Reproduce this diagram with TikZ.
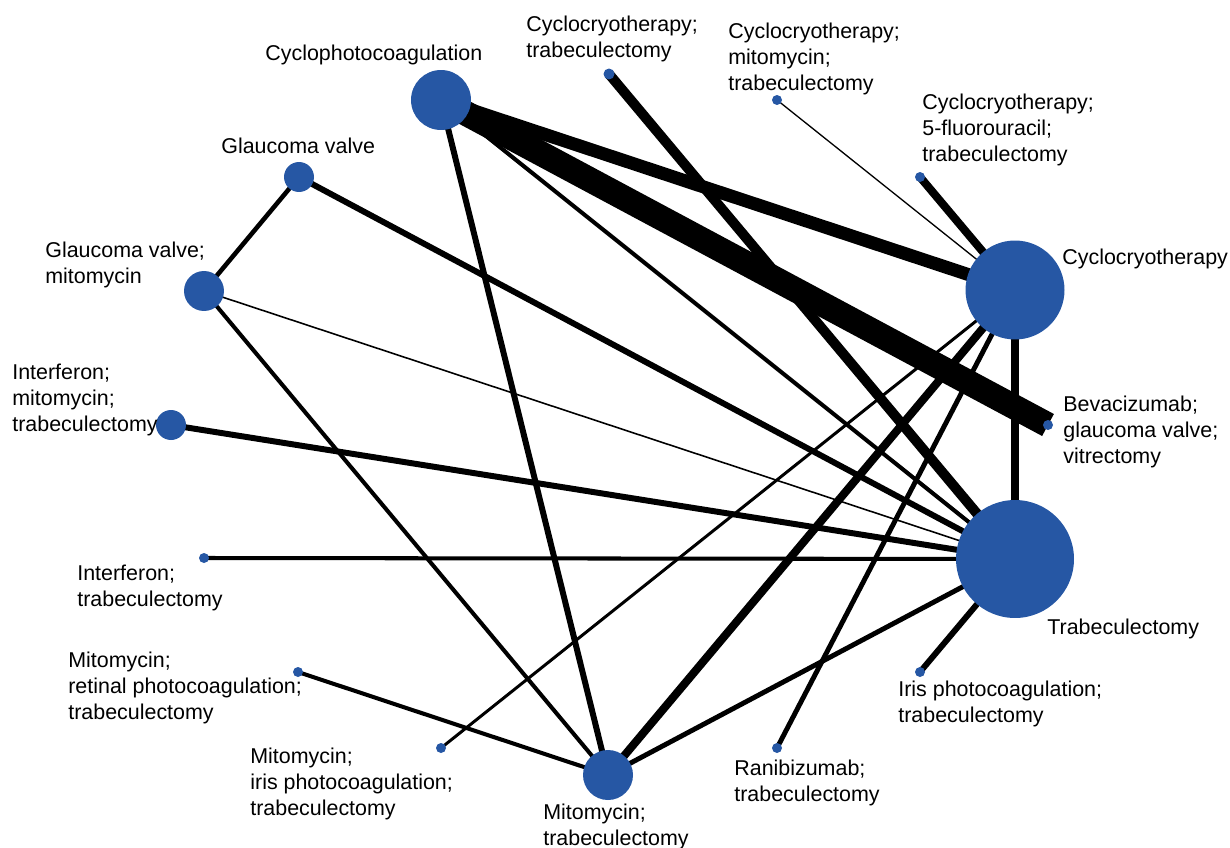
\documentclass[tikz,border=0pt]{standalone}
\usepackage{fontspec}
\setmainfont{Liberation Sans}
\usetikzlibrary{backgrounds}
\definecolor{nodeblue}{RGB}{38, 87, 164}

\begin{document}
\begin{tikzpicture}[x=0.02cm, y=-0.02cm,
    trt/.style={
        circle, fill=nodeblue, draw=none, inner sep=0pt,
        minimum size=#1
    },
    lnk/.style={draw=black, line width=#1},
    lbl/.style={font=\fontsize{12.2}{14.8}\selectfont, align=left,
        inner sep=0pt, anchor=west},
]
\useasboundingbox (0,0) rectangle (1230,848);

% --- Tratamientos (centros en px) ---
\node[trt=1.2cm]  (CPC)  at (441, 100) {};
\node[trt=0.22cm] (CT)   at (609, 74)  {};
\node[trt=0.2cm]  (CMT)  at (777, 100) {};
\node[trt=0.2cm]  (CFT)  at (920, 177) {};
\node[trt=1.98cm] (CC)   at (1015, 290) {};
\node[trt=0.2cm]  (BGV)  at (1048, 425) {};
\node[trt=2.36cm] (T)    at (1015, 559) {};
\node[trt=0.2cm]  (IPT)  at (920, 672) {};
\node[trt=0.2cm]  (RT)   at (777, 748) {};
\node[trt=1.0cm]  (MT)   at (608, 775) {};
\node[trt=0.2cm]  (MIPT) at (441, 748) {};
\node[trt=0.2cm]  (MRPT) at (298, 672) {};
\node[trt=0.2cm]  (IT)   at (204, 558) {};
\node[trt=0.6cm]  (IMT)  at (171, 425) {};
\node[trt=0.8cm]  (GVM)  at (204, 291) {};
\node[trt=0.6cm]  (GV)   at (299, 177) {};

% --- Comparaciones directas (debajo de los nodos) ---
\begin{scope}[on background layer]
\draw[lnk=14.2pt] (CPC.center) -- (BGV.center);
\draw[lnk=7.4pt]  (CPC.center) -- (CC.center);
\draw[lnk=2.3pt]  (CPC.center) -- (T.center);
\draw[lnk=3.4pt]  (CPC.center) -- (MT.center);
\draw[lnk=5.7pt]  (CT.center)  -- (T.center);
\draw[lnk=0.75pt] (CMT.center) -- (CC.center);
\draw[lnk=4.6pt]  (CFT.center) -- (CC.center);
\draw[lnk=4.6pt]  (CC.center)  -- (T.center);
\draw[lnk=4.6pt]  (MT.center)  -- (CC.center);
\draw[lnk=2.8pt]  (RT.center)  -- (CC.center);
\draw[lnk=1.7pt]  (MIPT.center) -- (CC.center);
\draw[lnk=3.4pt]  (IPT.center) -- (T.center);
\draw[lnk=2.8pt]  (MT.center)  -- (T.center);
\draw[lnk=2.3pt]  (MRPT.center) -- (MT.center);
\draw[lnk=2.3pt]  (IT.center)  -- (T.center);
\draw[lnk=3.4pt]  (IMT.center) -- (T.center);
\draw[lnk=0.9pt]  (GVM.center) -- (T.center);
\draw[lnk=2.3pt]  (GVM.center) -- (MT.center);
\draw[lnk=2.6pt]  (GV.center)  -- (GVM.center);
\draw[lnk=3.4pt]  (GV.center)  -- (T.center);
\end{scope}

% --- Etiquetas ---
\node[lbl] (lCPC)  at (265, 55)  {Cyclophotocoagulation};
\node[lbl] (lCT)   at (526, 39)  {Cyclocryotherapy;\\trabeculectomy};
\node[lbl] (lCMT)  at (728, 59)  {Cyclocryotherapy;\\mitomycin;\\trabeculectomy};
\node[lbl] (lCFT)  at (922, 130) {Cyclocryotherapy;\\5-fluorouracil;\\trabeculectomy};
\node[lbl] (lCC)   at (1062, 259) {Cyclocryotherapy};
\node[lbl] (lBGV)  at (1063, 432) {Bevacizumab;\\glaucoma valve;\\vitrectomy};
\node[lbl] (lT)    at (1047, 629) {Trabeculectomy};
\node[lbl] (lIPT)  at (898, 704) {Iris photocoagulation;\\trabeculectomy};
\node[lbl] (lRT)   at (734, 783) {Ranibizumab;\\trabeculectomy};
\node[lbl] (lMT)   at (543, 827) {Mitomycin;\\trabeculectomy};
\node[lbl] (lMIPT) at (250, 784) {Mitomycin;\\iris photocoagulation;\\trabeculectomy};
\node[lbl] (lMRPT) at (68, 688)  {Mitomycin;\\retinal photocoagulation;\\trabeculectomy};
\node[lbl] (lIT)   at (77, 588)  {Interferon;\\trabeculectomy};
\node[lbl] (lIMT)  at (12, 400)  {Interferon;\\mitomycin;\\trabeculectomy};
\node[lbl] (lGVM)  at (45, 265)  {Glaucoma valve;\\mitomycin};
\node[lbl] (lGV)   at (221, 146) {Glaucoma valve};

\end{tikzpicture}
\end{document}
